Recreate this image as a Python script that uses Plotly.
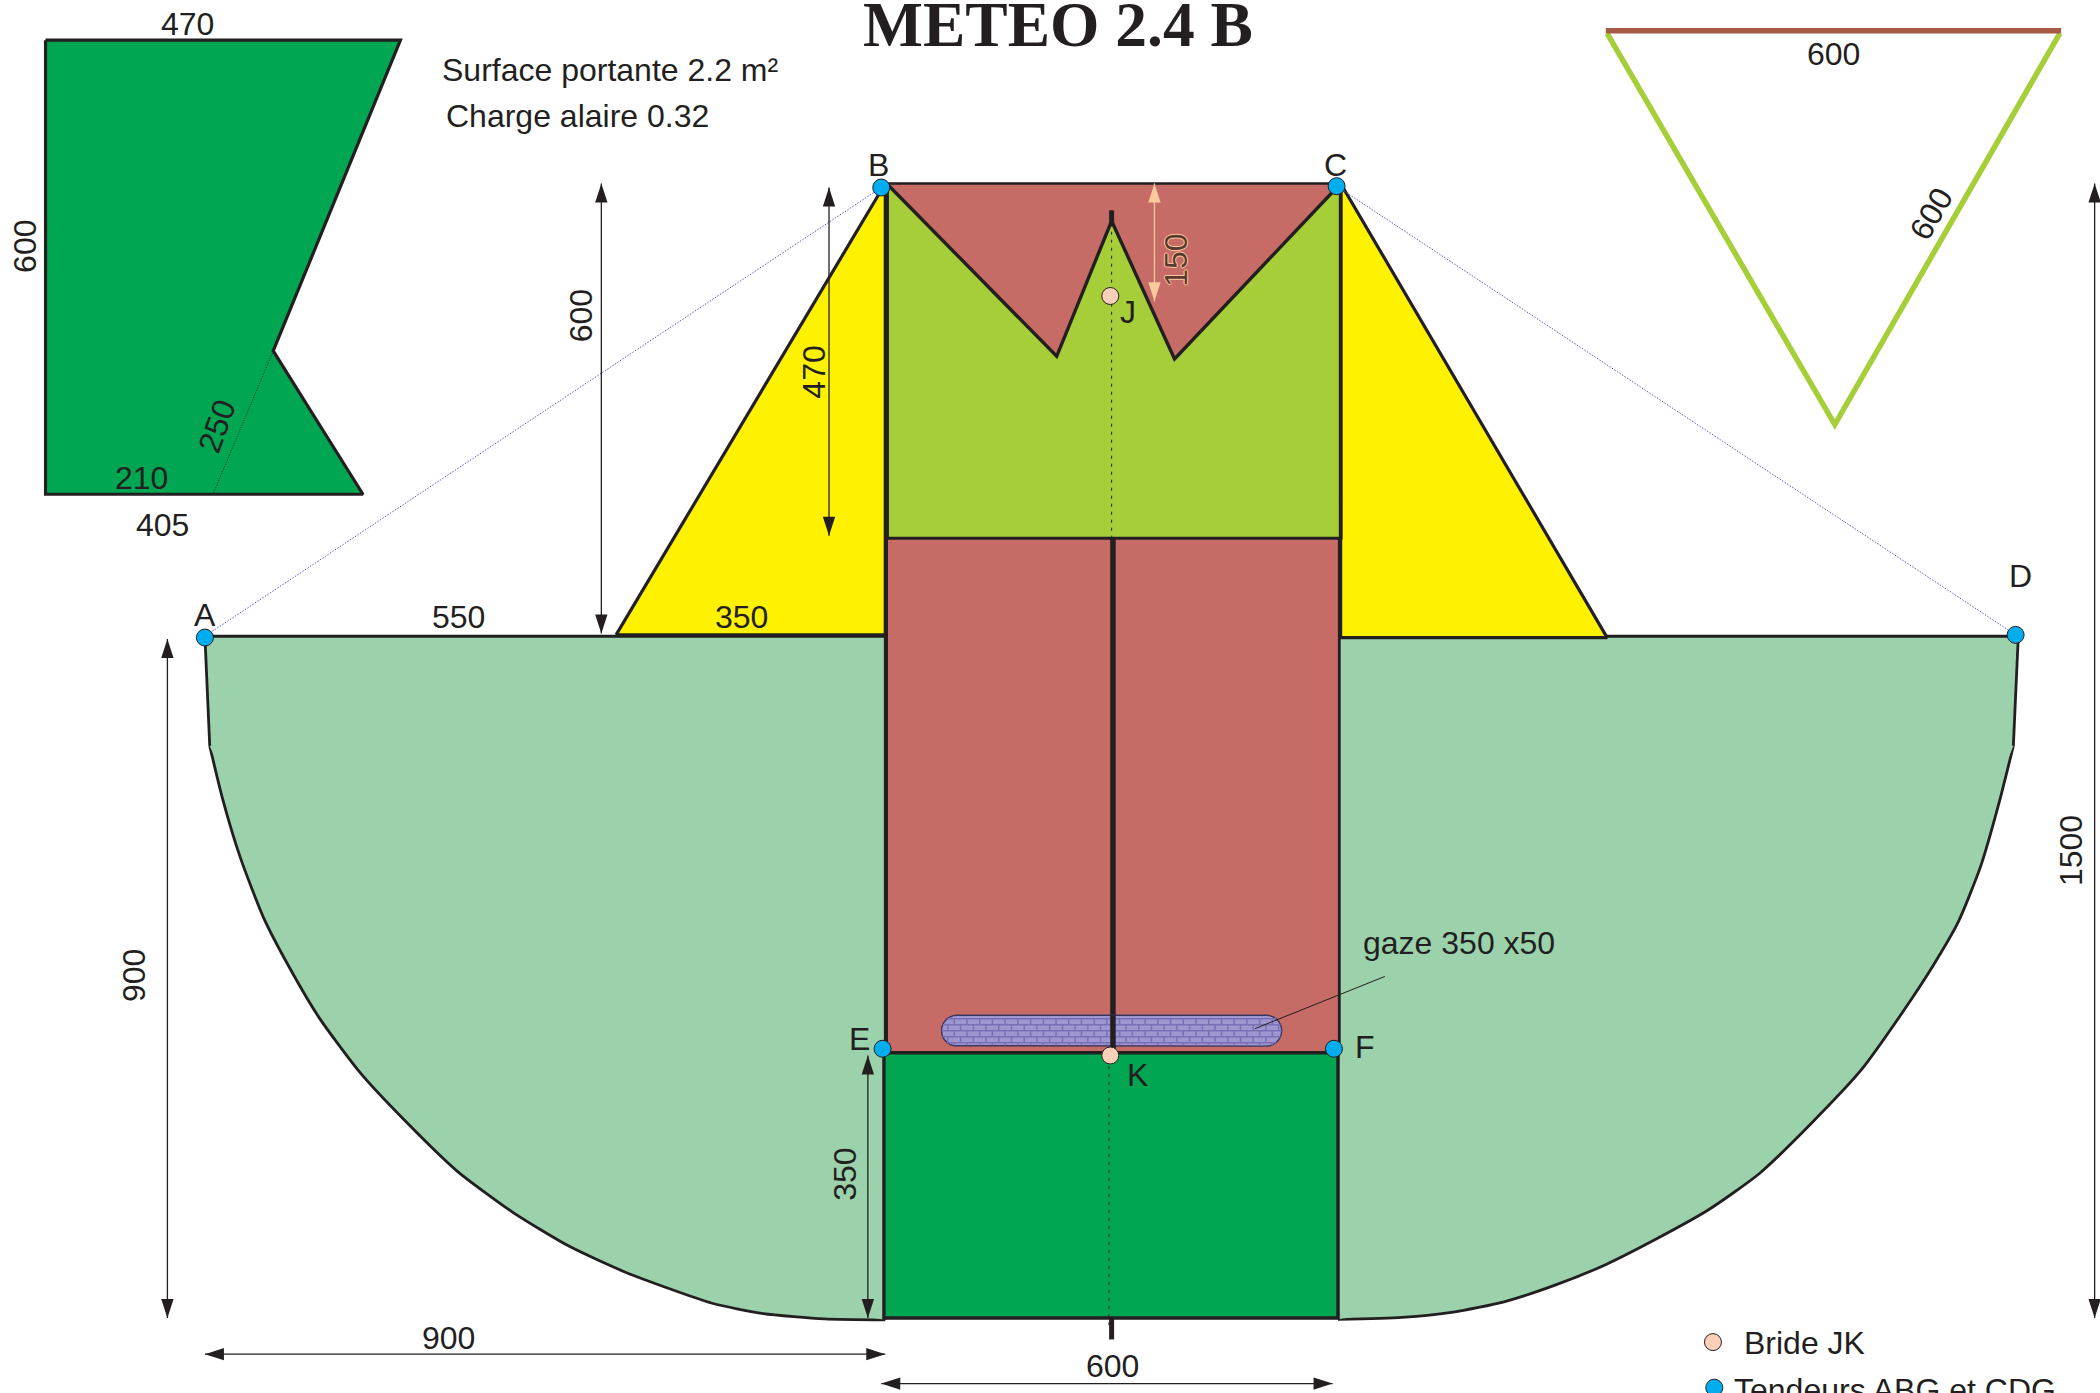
import numpy as np
import plotly.graph_objects as go

INK = "#231F20"
GREEN = "#00A651"
MINT = "#9BD2AC"
YELLOW = "#FFF200"
ROSE = "#C76B67"
LIME = "#A6CE39"
BLUE = "#00AEEF"
PINK = "#FBCFB8"
PEACH = "#FBC99B"
DOTBLUE = "#5A5AC8"
GAZE = "#9E96CF"
MORTAR = "#7A70B8"
FONT = "Liberation Sans"

# Outlines of the sail panels
wing_x = [34, 299, 204, 271, 34, 34]
wing_y = [30, 30, 262, 369, 369, 30]
mint_left_x = [153, 661, 661, 615, 532, 425, 308, 221, 172, 156.6, 153]
mint_left_y = [475, 475, 985.4, 979, 967, 924, 830, 716, 592, 556.9, 475]
curve_left_x = [156.6, 166, 179.4, 196.6, 215.6, 238.5, 268.9, 303.2, 341.3, 383.2, 425.1, 467, 531.8, 569.9, 615.6, 661]
curve_left_y = [556.9, 595.6, 640.1, 684.7, 721.4, 760.1, 800.8, 837.5, 874.3, 905.3, 930.5, 949.8, 973, 980.7, 984.6, 985.4]
mint_right_x = [999, 1507, 1503.3, 1487, 1438, 1347, 1234, 1120, 1046, 999, 999]
mint_right_y = [475, 475, 556.9, 597, 716, 833, 919, 966, 978, 985, 475]
curve_right_x = [1503.3, 1492.6, 1479.2, 1462.1, 1443.1, 1420.2, 1389.7, 1351.6, 1313.5, 1275.4, 1237.3, 1199.2, 1161.1, 1123, 1085, 1046.8, 999]
curve_right_y = [556.9, 599.5, 645.9, 688.5, 721.4, 756.3, 798.8, 839.5, 876.3, 903.4, 924.7, 944, 959.5, 971.9, 979.6, 983.5, 985]
yellow_left_x = [460, 661, 661, 460]
yellow_left_y = [474, 137, 474, 474]
yellow_right_x = [1001, 1200, 1001, 1001]
yellow_right_y = [137, 476, 476, 137]
rose_top_x = [662, 1001, 1001, 662, 662]
rose_top_y = [137, 137, 402, 402, 137]
lime_x = [662, 789, 830, 877, 1001, 1001, 662, 662]
lime_y = [137, 266, 165, 268, 137, 402, 402, 137]
rose_low_x = [662, 1000, 1000, 662, 662]
rose_low_y = [402, 402, 786, 786, 402]
keel_x = [660, 999, 999, 660, 660]
keel_y = [786, 786, 984, 984, 786]

# Gauze strip: left, right, top, bottom
gaze_box = [703, 957, 758, 781]

# Triangle view
tri_x = [1200, 1370, 1538]
tri_y = [25, 317, 25]
tri_top_x = [1199, 1539]
tri_top_y = [23, 23]

# Points
tensioner_x = [153, 658, 998, 1505, 659, 996, 1280]
tensioner_y = [476, 140, 139, 474, 783, 783, 1036]
bridle_x = [829, 829, 1279]
bridle_y = [221, 788, 1002]

# Dimension arrows
dim_x0 = [449, 619, 125, 1564, 648, 153, 658]
dim_y0 = [137, 140, 477, 137, 788, 1011, 1033]
dim_x1 = [449, 619, 125, 1564, 648, 661, 995]
dim_y1 = [473, 400, 984, 984, 984, 1011, 1033]

# Labels
upright_text = ["470", "210", "405", "Surface portante 2.2 m²", "Charge alaire 0.32", "550", "350", "900", "600", "600",
                "A", "B", "C", "D", "E", "F", "J", "K", "gaze 350 x50", "Bride JK", "Tendeurs ABG et CDG"]
upright_x = [140, 106, 121, 328.5, 331.5, 342, 554, 335, 831, 1369, 153, 656, 997, 1509, 642, 1019, 842, 849, 1016.5, 1300.5, 1293.5]
upright_y = [18, 357, 392, 52.5, 86.5, 461, 461, 999, 1020, 40.5, 459, 123, 123, 430, 776, 782, 233, 802.5, 704, 1003, 1038]
upright_anchor = ["center", "center", "center", "left", "left", "center", "center", "center", "center", "center",
                  "center", "center", "center", "center", "center", "center", "center", "center", "left", "left", "left"]
turned_text = ["600", "250", "600", "470", "900", "350", "1500", "600"]
turned_x = [19, 162, 434, 608, 100, 631, 1546, 1442]
turned_y = [184, 318, 236, 278, 728, 877, 635, 160]
turned_angle = [-90, -70, -90, -90, -90, -90, -90, -60]

fig = go.Figure()


def panel(x, y, fill, width=3.2):
    fig.add_trace(go.Scatter(x=x, y=y, mode="lines", fill="toself", fillcolor=fill,
                             line=dict(color=INK, width=width), hoverinfo="skip"))


def seg(x, y, color=INK, width=1.0, dash=None):
    fig.add_trace(go.Scatter(x=x, y=y, mode="lines", line=dict(color=color, width=width, dash=dash),
                             connectgaps=False, hoverinfo="skip"))


def curved(x, y, fill, width=2.8):
    fig.add_trace(go.Scatter(x=x, y=y, mode="lines", fill="toself", fillcolor=fill,
                             line=dict(color=INK, width=width, shape="spline", smoothing=0.6), hoverinfo="skip"))


def plain(x, y, fill):
    fig.add_trace(go.Scatter(x=x, y=y, mode="none", fill="toself", fillcolor=fill, hoverinfo="skip"))


def arrow(x0, y0, x1, y1, color=INK):
    angles = [0, 180] if x0 == x1 else [270, 90]
    fig.add_trace(go.Scatter(x=[x0, x1], y=[y0, y1], mode="lines+markers",
                             line=dict(color=color, width=1.3),
                             marker=dict(symbol="arrow", size=20, angle=angles, color=color, line=dict(width=0)),
                             hoverinfo="skip"))


panel(wing_x, wing_y, GREEN)
seg([204, 159], [262, 369], INK, 0.9, "1px,1.5px")

curved(curve_left_x, curve_left_y, MINT)
plain(mint_left_x, mint_left_y, MINT)
seg([156.6, 153, 661, 661], [556.9, 475, 475, 985.4], INK, 2.8)
curved(curve_right_x, curve_right_y, MINT)
plain(mint_right_x, mint_right_y, MINT)
seg([999, 999, 1507, 1503.3], [985, 475, 475, 556.9], INK, 2.8)

panel(yellow_left_x, yellow_left_y, YELLOW)
panel(yellow_right_x, yellow_right_y, YELLOW)
panel(rose_top_x, rose_top_y, ROSE, 2.5)
panel(lime_x, lime_y, LIME, 3.4)
panel(rose_low_x, rose_low_y, ROSE, 2.8)
panel(keel_x, keel_y, GREEN, 3.4)

seg([662, 662], [137, 402], INK, 4.5)
seg([1001, 1001], [137, 402], INK, 3.5)
seg([831, 831], [402, 786], INK, 5.5)
seg([830, 830], [157, 167], INK, 5)
seg([830, 830], [984, 1000], INK, 5)
seg([830, 830], [167, 402], INK, 1.0, "3px,5px")
seg([828, 828], [790, 992], INK, 1.0, "3px,5px")

# Gauze strip, a round-ended pill with a brick hatch
gl, gr, gt, gb = gaze_box
rad = (gb - gt) / 2
cy = (gt + gb) / 2
ang_r = np.linspace(-np.pi / 2, np.pi / 2, 15)
ang_l = np.linspace(np.pi / 2, 3 * np.pi / 2, 15)
pill_x = list(gr - rad + rad * np.cos(ang_r)) + list(gl + rad + rad * np.cos(ang_l))
pill_y = list(cy + rad * np.sin(ang_r)) + list(cy + rad * np.sin(ang_l))
pill_x.append(pill_x[0])
pill_y.append(pill_y[0])
fig.add_trace(go.Scatter(x=pill_x, y=pill_y, mode="lines", fill="toself", fillcolor=GAZE,
                         line=dict(color="#3A3560", width=1.4), hoverinfo="skip"))


def span(y):
    d = np.sqrt(max(rad ** 2 - (y - cy) ** 2, 0))
    return gl + rad - d, gr - rad + d


bx, by = [], []
row_step = 4.5
brick_step = 9.5
rows = np.arange(gt + 2.5, gb, row_step)
for k, y in enumerate(rows):
    a, b = span(y)
    bx += [a, b, None]
    by += [y, y, None]
    y2 = min(y + row_step, gb - 0.5)
    x = gl + (k % 2) * brick_step / 2
    while x < gr:
        a2, b2 = span((y + y2) / 2)
        if a2 + 1 < x < b2 - 1:
            bx += [x, x, None]
            by += [y, y2, None]
        x += brick_step
seg(bx, by, MORTAR, 1.5)

seg([831, 831], [758, 786], INK, 5.5)
seg([1034, 937], [729, 768], INK, 1.0)

seg([153, 658], [475, 140], DOTBLUE, 1.0, "1.5px,1.5px")
seg([998, 1505], [139, 474], DOTBLUE, 1.0, "1.5px,1.5px")

seg(tri_x, tri_y, LIME, 5.5)
seg(tri_top_x, tri_top_y, "#A55B45", 5.5)

for a in zip(dim_x0, dim_y0, dim_x1, dim_y1):
    arrow(*a)
arrow(862, 137, 862, 225, PEACH)

fig.add_trace(go.Scatter(x=tensioner_x, y=tensioner_y, mode="markers",
                         marker=dict(size=17, color=BLUE, line=dict(color=INK, width=1)), hoverinfo="skip"))
fig.add_trace(go.Scatter(x=bridle_x, y=bridle_y, mode="markers",
                         marker=dict(size=17, color=PINK, line=dict(color=INK, width=1)), hoverinfo="skip"))

annotations = [dict(x=790, y=18, text="<b>METEO 2.4 B</b>", showarrow=False, xanchor="center", yanchor="middle",
                    font=dict(family="Liberation Serif", size=63.5, color=INK))]
for t, x, y, anc in zip(upright_text, upright_x, upright_y, upright_anchor):
    annotations.append(dict(x=x, y=y, text=t, showarrow=False, xanchor=anc, yanchor="middle",
                            font=dict(family=FONT, size=32, color=INK)))
for t, x, y, ang in zip(turned_text, turned_x, turned_y, turned_angle):
    annotations.append(dict(x=x, y=y, text=t, textangle=ang, showarrow=False, xanchor="center", yanchor="middle",
                            font=dict(family=FONT, size=32, color=INK)))
annotations.append(dict(x=878, y=194, text="150", textangle=-90, showarrow=False, xanchor="center", yanchor="middle",
                        font=dict(family=FONT, size=32, color="#5A3A30",
                                  shadow="1px 0 #FBC99B, -1px 0 #FBC99B, 0 1px #FBC99B, 0 -1px #FBC99B")))

fig.update_layout(
    width=2100, height=1393, autosize=False, showlegend=False,
    margin=dict(l=0, r=0, t=0, b=0, pad=0),
    paper_bgcolor="white", plot_bgcolor="white",
    xaxis=dict(range=[0, 1568], visible=False, fixedrange=True),
    yaxis=dict(range=[1040, 0], visible=False, fixedrange=True),
    annotations=annotations,
)
fig.write_html("out.html", config={"displayModeBar": False},
               post_script="document.body.style.margin='0';document.body.style.overflow='hidden';")
